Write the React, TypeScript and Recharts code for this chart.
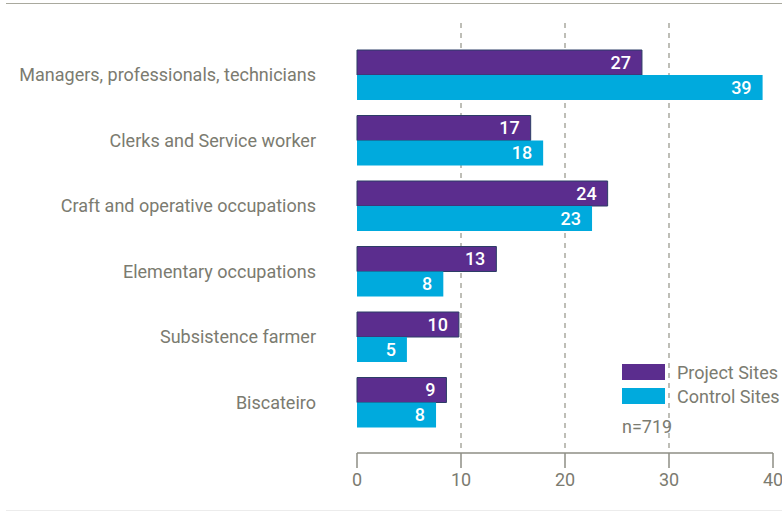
import React from "react";
import {
  Bar,
  BarChart,
  CartesianGrid,
  LabelList,
  XAxis,
  YAxis,
} from "recharts";

const categories = [
  "Managers, professionals, technicians",
  "Clerks and Service worker",
  "Craft and operative occupations",
  "Elementary occupations",
  "Subsistence farmer",
  "Biscateiro",
];
const projectSites = [27.4, 16.7, 24.1, 13.4, 9.8, 8.6];
const controlSites = [39.0, 17.9, 22.6, 8.3, 4.8, 7.6];
const xTicks = [0, 10, 20, 30, 40];
const gridLines = [10, 20, 30];
const seriesNames = ["Project Sites", "Control Sites"];
const sampleNote = "n=719";

const PURPLE = "#5b2d8e";
const CYAN = "#00aadd";
const GREY = "#7b7b70";
const AXIS = "#8e8e84";
const FONT = "Roboto, 'Noto Sans', sans-serif";

const data = categories.map((name, i) => ({
  name,
  project: projectSites[i],
  control: controlSites[i],
}));

function LegendBox() {
  const colors = [PURPLE, CYAN];
  return (
    <div
      style={{
        position: "absolute",
        left: 622,
        top: 360,
        fontFamily: FONT,
        fontSize: 18,
        color: GREY,
        whiteSpace: "nowrap",
      }}
    >
      {seriesNames.map((s, i) => (
        <div key={s} style={{ display: "flex", alignItems: "center", height: 24 }}>
          <span
            style={{
              display: "inline-block",
              width: 43,
              height: 16,
              background: colors[i],
              marginRight: 12,
            }}
          />
          {s}
        </div>
      ))}
      <div style={{ marginTop: 8 }}>{sampleNote}</div>
    </div>
  );
}

export default function App() {
  const round = (v: any) => Math.round(Number(v));
  return (
    <div
      style={{
        position: "absolute",
        left: 0,
        top: 0,
        width: 782,
        height: 511,
        background: "#fff",
        fontFamily: FONT,
      }}
    >
      <div
        style={{
          position: "absolute",
          left: 6,
          right: 0,
          top: 3,
          height: 0,
          borderTop: "1px solid #a9a99e",
        }}
      />
      <div
        style={{
          position: "absolute",
          left: 6,
          right: 0,
          top: 510,
          height: 0,
          borderTop: "1px solid #ececec",
        }}
      />
      <BarChart
        layout="vertical"
        data={data}
        width={782}
        height={511}
        margin={{ top: 23, right: 9, bottom: 0, left: 0 }}
        barSize={25}
        barGap={0}
      >
        <CartesianGrid
          horizontal={false}
          verticalValues={gridLines}
          stroke="#a9a9a0"
          strokeWidth={1.5}
          strokeDasharray="5 5"
        />
        <XAxis
          type="number"
          domain={[0, 40]}
          ticks={xTicks}
          height={58}
          tickSize={15}
          tickMargin={5}
          axisLine={{ stroke: AXIS, strokeWidth: 1.5 }}
          tickLine={{ stroke: AXIS, strokeWidth: 1.5 }}
          tick={{ fill: GREY, fontSize: 18, fontFamily: FONT }}
        />
        <XAxis
          xAxisId="top"
          type="number"
          orientation="top"
          domain={[0, 40]}
          height={0}
          tick={false}
          tickLine={false}
          axisLine={{ stroke: AXIS, strokeWidth: 1.5 }}
        />
        <YAxis
          type="category"
          dataKey="name"
          width={357}
          axisLine={false}
          tickLine={false}
          tickSize={0}
          tickMargin={41}
          padding={{ top: 19, bottom: 18 }}
          interval={0}
          tick={{ fill: GREY, fontSize: 18, fontFamily: FONT }}
        />
        <Bar
          dataKey="project"
          name={seriesNames[0]}
          fill={PURPLE}
          stroke="#2c3d66"
          strokeWidth={1}
          isAnimationActive={false}
        >
          <LabelList
            dataKey="project"
            position="insideRight"
            offset={11}
            formatter={round}
            fill="#fff"
            fontSize={18}
            fontWeight={500}
            fontFamily={FONT}
          />
        </Bar>
        <Bar
          dataKey="control"
          name={seriesNames[1]}
          fill={CYAN}
          isAnimationActive={false}
        >
          <LabelList
            dataKey="control"
            position="insideRight"
            offset={11}
            formatter={round}
            fill="#fff"
            fontSize={18}
            fontWeight={500}
            fontFamily={FONT}
          />
        </Bar>
      </BarChart>
      <LegendBox />
    </div>
  );
}
